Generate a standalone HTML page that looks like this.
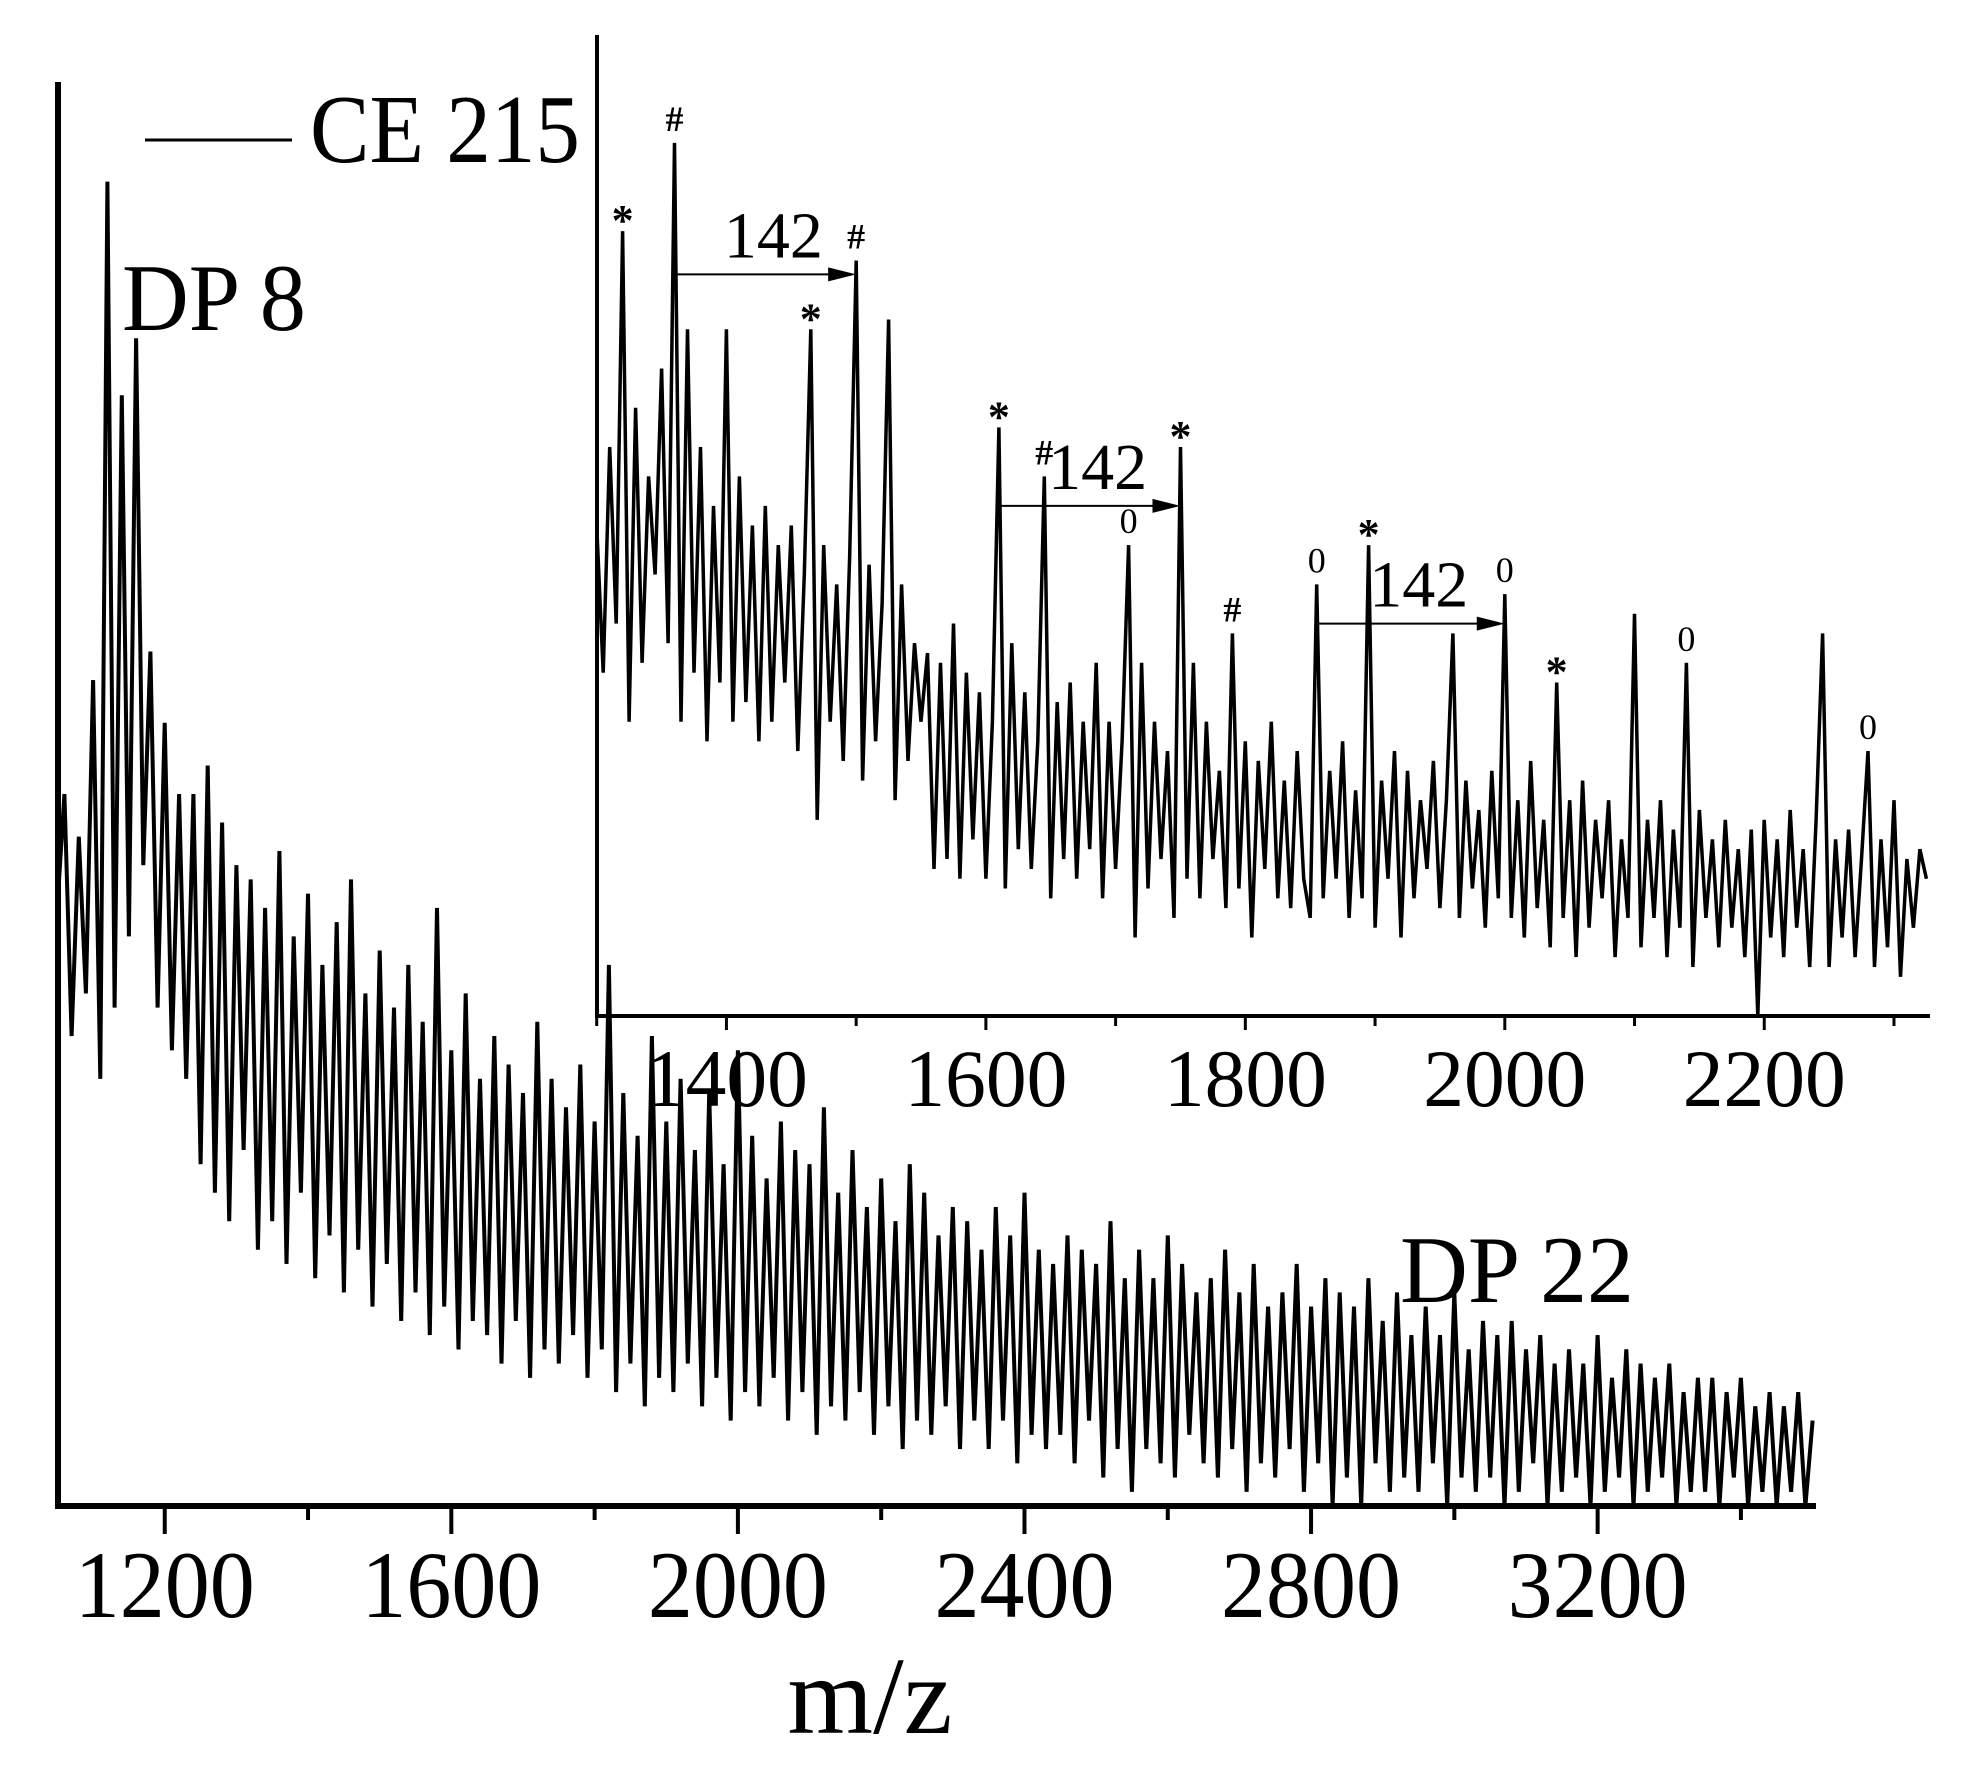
<!DOCTYPE html>
<html><head><meta charset="utf-8"><style>
html,body{margin:0;padding:0;background:#fff;}
svg{display:block;}
text{font-family:"Liberation Serif",serif;fill:#000;}
</style></head><body>
<svg id="chart" width="1961" height="1785" viewBox="0 0 1961 1785" xmlns="http://www.w3.org/2000/svg">
<rect width="1961" height="1785" fill="#fff"/>
<g id="main"></g>
<g id="inset"></g>
<line x1="145" y1="140" x2="292" y2="140" stroke="#000" stroke-width="3"/>
<text x="310" y="162" font-size="97" textLength="270" lengthAdjust="spacingAndGlyphs">CE 215</text>
<text x="122" y="330" font-size="95" textLength="184" lengthAdjust="spacingAndGlyphs">DP 8</text>
<text x="1400" y="1302" font-size="95" textLength="234" lengthAdjust="spacingAndGlyphs">DP 22</text>
<text x="870" y="1733" font-size="110" text-anchor="middle">m/z</text>
</svg>
<script>
// Main spectrum data: intensity (0-100) from m/z 1050 step 10
const mainStart = 1050;
const mainStep = 10;
const mainValues = [
42,50,33,47,36,58,30,93,35,78,
40,82,45,60,35,55,32,50,30,50,
24,52,22,48,20,45,25,44,18,42,
20,46,17,40,22,43,16,38,19,41,
15,44,18,36,14,39,17,35,13,38,
15,34,12,42,14,32,11,36,13,30,
12,33,10,31,13,29,9,34,11,30,
10,28,12,31,9,27,11,38,8,29,
10,26,7,33,9,27,8,30,10,25,
7,29,9,24,6,32,8,26,7,23,
9,27,6,25,8,24,5,28,7,22,
6,25,8,21,5,23,7,20,4,24,
6,22,5,19,7,21,4,20,6,18,
4,21,6,19,3,22,5,18,4,17,
5,19,3,18,6,17,2,20,4,16,
1,18,4,16,3,19,2,17,5,15,
3,16,2,18,4,15,1,17,3,14,
2,15,4,17,1,14,3,16,0,15,
2,14,0,16,3,13,1,15,2,12,
1,14,3,12,0,15,2,11,1,13,
2,12,0,13,1,11,3,12,0,10,
1,11,2,10,0,12,1,9,2,11,
0,10,1,9,2,10,0,8,1,9,
1,9,0,8,2,9,0,7,1,8,
0,7,1,8,0,6
];
const mainMajorTicks = [1200,1600,2000,2400,2800,3200];
const mainMinorTicks = [1400,1800,2200,2600,3000,3400];

// Inset spectrum data: intensity (0-100) from m/z 1300 step 5
const insetStart = 1300;
const insetStep = 5;
const insetValues = [
50,35,58,40,80,30,62,36,55,45,66,38,89,30,70,35,58,28,52,34,
70,30,55,32,50,28,52,30,48,34,50,27,45,70,20,48,30,44,26,47,
77,24,46,28,42,71,22,44,26,38,30,37,15,36,16,40,14,35,18,33,
14,30,60,13,38,17,33,15,28,55,12,32,16,34,14,30,17,36,12,30,
15,28,48,8,36,13,30,16,27,10,58,14,36,12,30,16,25,11,39,13,
28,8,26,15,30,12,24,11,27,14,10,44,12,25,14,28,10,23,12,48,
9,24,14,27,8,25,12,22,15,26,11,22,39,10,24,13,21,9,25,12,
43,10,22,8,26,11,20,7,34,10,22,6,24,9,20,12,22,6,18,10,
41,7,20,10,22,6,19,9,36,5,21,10,18,7,20,9,17,6,19,0,
20,8,18,6,21,9,17,5,20,39,5,18,8,19,6,16,27,5,18,7,
22,4,16,9,17,14
];
const insetTickLabels = [1400,1600,1800,2000,2200];
const insetMinorTicks = [1300,1500,1700,1900,2100,2300];
const markerMz = [1320,1360,1465,1500,1610,1645,1710,1750,1790,1855,1895,2000,2040,2140,2280];
const markerSymbols = ['*','#','*','#','*','#','0','*','#','0','*','0','*','0','0'];
const arrowFrom = [1360,1610,1855];
const arrowTo = [1500,1750,2000];
const arrowLevel = [75.6,52,40];
const arrowLabel = ['142','142','142'];

const NS = 'http://www.w3.org/2000/svg';
function mk(tag, attrs, parent){
  const e = document.createElementNS(NS, tag);
  for (const k in attrs) e.setAttribute(k, attrs[k]);
  parent.appendChild(e);
  return e;
}
const mX = mz => 58 + (mz - 1051) / (3502 - 1051) * (1814 - 58);
const mY = v => 1506 - v / 100 * (1506 - 82);
const iX = mz => 598 + (mz - 1301) / (2327 - 1301) * (1929 - 598);
const iY = v => 1016 - v / 100 * (1016 - 35);

const gm = document.getElementById('main');
let d = '';
mainValues.forEach((v, i) => { d += (i ? 'L' : 'M') + mX(mainStart + i * mainStep).toFixed(1) + ' ' + mY(v).toFixed(1); });
const mp = mk('path', {d: d, fill: 'none', stroke: '#000', 'stroke-width': 4}, gm);


const may = mk('line', {x1: 58, y1: 82, x2: 58, y2: 1508, stroke: '#000', 'stroke-width': 6}, gm);


const max = mk('line', {x1: 55, y1: 1506, x2: 1816, y2: 1506, stroke: '#000', 'stroke-width': 6}, gm);


mainMajorTicks.forEach(t => {
  const tk = mk('line', {x1: mX(t), y1: 1506, x2: mX(t), y2: 1534, stroke: '#000', 'stroke-width': 4}, gm);
  
  
  const lb = mk('text', {x: mX(t), y: 1617, 'font-size': 95, 'text-anchor': 'middle', textLength: 180, lengthAdjust: 'spacingAndGlyphs'}, gm);
  lb.textContent = t;
  
  
});
mainMinorTicks.forEach(t => {
  const tk = mk('line', {x1: mX(t), y1: 1506, x2: mX(t), y2: 1520, stroke: '#000', 'stroke-width': 4}, gm);
  
  
});

const gi = document.getElementById('inset');
let di = '';
insetValues.forEach((v, i) => { di += (i ? 'L' : 'M') + iX(insetStart + i * insetStep).toFixed(1) + ' ' + iY(v).toFixed(1); });
const ip = mk('path', {d: di, fill: 'none', stroke: '#000', 'stroke-width': 3.5}, gi);


const iay = mk('line', {x1: 597, y1: 35, x2: 597, y2: 1018, stroke: '#000', 'stroke-width': 4}, gi);


const iax = mk('line', {x1: 595, y1: 1016, x2: 1930, y2: 1016, stroke: '#000', 'stroke-width': 4}, gi);


insetTickLabels.forEach(t => {
  const tk = mk('line', {x1: iX(t), y1: 1016, x2: iX(t), y2: 1030, stroke: '#000', 'stroke-width': 3}, gi);
  
  
  const lb = mk('text', {x: iX(t), y: 1106, 'font-size': 82, 'text-anchor': 'middle', textLength: 163, lengthAdjust: 'spacingAndGlyphs'}, gi);
  lb.textContent = t;
  
  
});
insetMinorTicks.forEach(t => {
  const tk = mk('line', {x1: iX(t), y1: 1016, x2: iX(t), y2: 1026, stroke: '#000', 'stroke-width': 3}, gi);
  
  
});
markerMz.forEach((mz, k) => {
  const v = insetValues[Math.round((mz - insetStart) / insetStep)];
  const sym = markerSymbols[k];
  const t = mk('text', {x: iX(mz), y: iY(v) - (sym === '*' ? -4 : 12), 'font-size': sym === '*' ? 44 : 36, 'font-weight': sym === '0' ? 'normal' : 'bold', 'text-anchor': 'middle'}, gi);
  t.textContent = sym;
  
  
});
arrowFrom.forEach((a, k) => {
  const x1 = iX(a), x2 = iX(arrowTo[k]), y = iY(arrowLevel[k]);
  const ln = mk('line', {x1: x1, y1: y, x2: x2 - 20, y2: y, stroke: '#000', 'stroke-width': 2}, gi);
  
  
  const hd = mk('polygon', {points: `${x2},${y} ${x2-28},${y-7} ${x2-28},${y+7}`, fill: '#000'}, gi);
  
  
  const lb = mk('text', {x: (x1 + x2) / 2 + 8, y: y - 17, 'font-size': 66, 'text-anchor': 'middle'}, gi);
  lb.textContent = arrowLabel[k];
  
  
});
</script>
</body></html>
